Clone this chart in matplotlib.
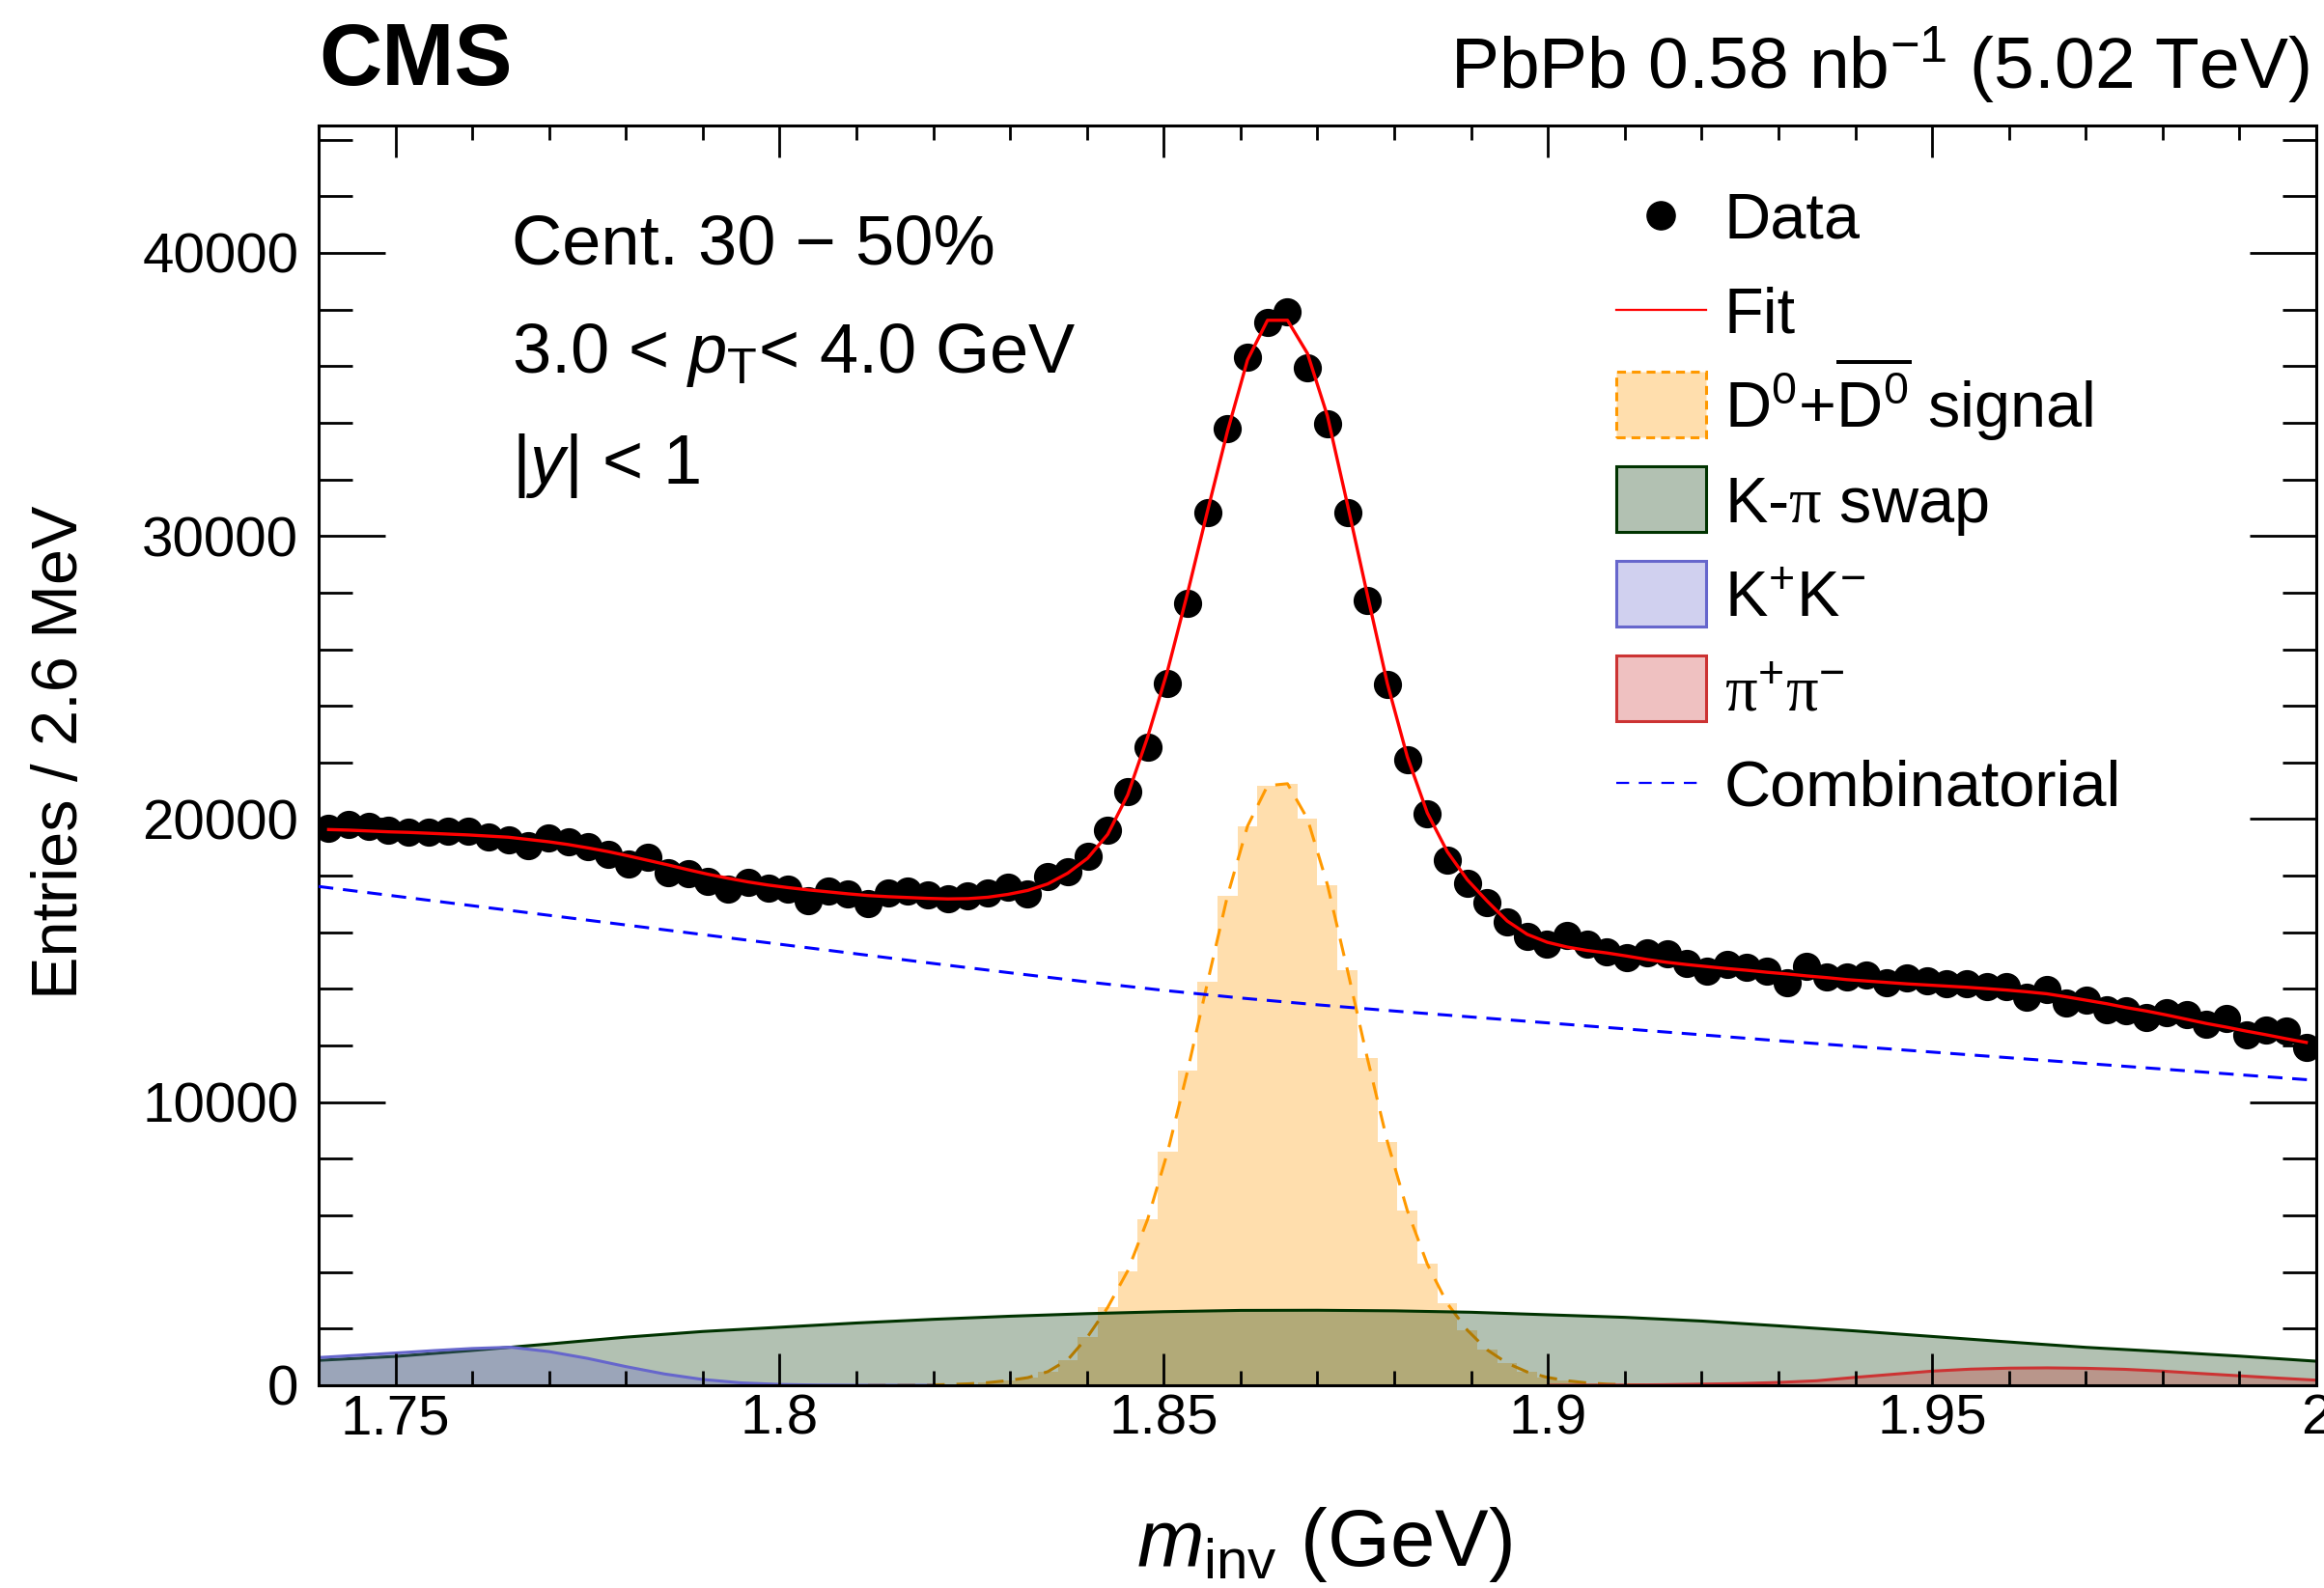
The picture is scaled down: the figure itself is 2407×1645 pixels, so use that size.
import numpy as np
import matplotlib
matplotlib.use("Agg")
import matplotlib.pyplot as plt
from matplotlib.patches import Rectangle
from matplotlib.ticker import FixedLocator, MultipleLocator, FuncFormatter

plt.rcParams["font.family"] = ["Liberation Sans", "DejaVu Sans"]
plt.rcParams["mathtext.fontset"] = "custom"
plt.rcParams["mathtext.rm"] = "Liberation Sans"
plt.rcParams["mathtext.it"] = "Liberation Sans:italic"
plt.rcParams["mathtext.bf"] = "Liberation Sans:bold"
plt.rcParams["mathtext.sf"] = "Liberation Serif"

# 100 bins of 2.6 MeV between 1.74 and 2.00 GeV
m_lo, m_hi, n_bins = 1.74, 2.00, 100
edges = np.linspace(m_lo, m_hi, n_bins + 1)
centers = 0.5 * (edges[:-1] + edges[1:])

data_counts = [
    19660, 19800, 19730, 19610, 19530, 19530, 19570, 19560, 19380, 19250,
    19050, 19350, 19200, 19020, 18750, 18400, 18650, 18090, 18060, 17800,
    17530, 17750, 17560, 17530, 17120, 17470, 17340, 17000, 17400, 17450,
    17320, 17200, 17300, 17400, 17600, 17350, 17960, 18150, 18680, 19610,
    20980, 22550, 24790, 27610, 30810, 33780, 36300, 37560, 37930, 35950,
    33980, 30810, 27720, 24760, 22100, 20180, 18550, 17740, 17060, 16380,
    15870, 15590, 15890, 15590, 15320, 15090, 15270, 15230, 14900, 14620,
    14870, 14760, 14640, 14220, 14790, 14410, 14410, 14500, 14220, 14380,
    14300, 14180, 14180, 14090, 14090, 13710, 13980, 13500, 13620, 13270,
    13240, 13000, 13160, 13080, 12770, 12960, 12370, 12540, 12510, 11940,
]

fit_counts = [
    19630, 19610, 19580, 19550, 19530, 19500, 19470, 19440, 19400, 19360,
    19280, 19200, 19100, 18980, 18850, 18700, 18540, 18380, 18210, 18050,
    17910, 17780, 17670, 17580, 17500, 17430, 17360, 17300, 17260, 17230,
    17200, 17180, 17190, 17240, 17340, 17480, 17710, 18090, 18620, 19460,
    20850, 22900, 25250, 27990, 30890, 33710, 36220, 37620, 37620, 36450,
    34240, 31120, 27920, 24790, 22200, 20220, 18850, 17860, 17100, 16400,
    15930, 15650, 15480, 15360, 15270, 15160, 15040, 14940, 14860, 14790,
    14720, 14660, 14590, 14530, 14460, 14400, 14330, 14280, 14230, 14180,
    14140, 14100, 14060, 14010, 13960, 13900, 13830, 13720, 13600, 13480,
    13340, 13220, 13080, 12930, 12780, 12650, 12510, 12380, 12240, 12110,
]

signal_counts = [0] * 28 + [
    3, 6, 12, 25, 50, 95, 165, 270, 480, 900,
    1720, 2750, 4040, 5860, 8240, 11110, 14240, 17300, 19750, 21180,
    21250, 20010, 17680, 14670, 11550, 8610, 6170, 4280, 2890, 1950,
    1250, 780, 470, 280, 160, 85, 40, 18, 8, 3,
] + [0] * 32

# background components sampled every 10 MeV
comp_mass = np.linspace(1.74, 2.00, 27)
comb = [17620, 17280, 16940, 16600, 16260, 15920, 15580, 15240, 14900, 14570,
        14250, 13950, 13680, 13440, 13220, 13010, 12800, 12590, 12380, 12170,
        11970, 11770, 11570, 11370, 11170, 10970, 10770]
swap = [880, 1020, 1230, 1460, 1700, 1900, 2050, 2200, 2330, 2440,
        2530, 2600, 2645, 2650, 2630, 2580, 2490, 2400, 2270, 2100,
        1920, 1725, 1530, 1340, 1190, 1030, 850]

kk_mass = np.linspace(1.74, 1.82, 17)
kk = [980, 1060, 1140, 1225, 1300, 1345, 1190, 950, 660, 400,
      205, 85, 30, 8, 2, 0, 0]

pipi_mass = np.linspace(1.90, 2.00, 21)
pipi = [0, 2, 8, 20, 40, 60, 100, 160, 280, 390,
        500, 570, 605, 615, 600, 565, 500, 415, 335, 255, 180]

c_sig_fill, c_sig_line = "#ffdead", "#ff9900"
c_swap = "#003300"
c_kk = "#6666cc"
c_pipi = "#cc3333"

fig = plt.figure(figsize=(24.07, 16.45), dpi=100)
ax = fig.add_axes([0.1371, 0.12766, 0.85957, 0.79331])

ax.stairs(signal_counts, edges, fill=True, color=c_sig_fill, lw=0, zorder=1)
nz = slice(27, 69)
ax.plot(centers[nz], np.array(signal_counts)[nz], color=c_sig_line, lw=2.2,
        dashes=(6, 4), zorder=1.2)

ax.fill_between(comp_mass, swap, color=c_swap, alpha=0.3, lw=0, zorder=1.4)
ax.plot(comp_mass, swap, color=c_swap, lw=2.2, zorder=1.5)
ax.fill_between(kk_mass, kk, color=c_kk, alpha=0.3, lw=0, zorder=1.6)
ax.plot(kk_mass, kk, color=c_kk, lw=2.2, zorder=1.7)
ax.fill_between(pipi_mass, pipi, color=c_pipi, alpha=0.3, lw=0, zorder=1.6)
ax.plot(pipi_mass, pipi, color=c_pipi, lw=2.2, zorder=1.7)

ax.plot(comp_mass, comb, color="blue", lw=2.2, dashes=(5, 3.3), zorder=3)
ax.plot(centers, data_counts, "o", color="black", ms=20, zorder=4)
ax.plot(centers, fit_counts, color="red", lw=2.4, zorder=5)

ax.set_xlim(m_lo, m_hi)
ax.set_ylim(0, 44500)
ax.set_axisbelow(False)

ax.xaxis.set_major_locator(FixedLocator([1.75, 1.8, 1.85, 1.9, 1.95, 2.0]))
ax.xaxis.set_minor_locator(FixedLocator(np.linspace(1.74, 2.0, 27)))
ax.xaxis.set_major_formatter(FuncFormatter(lambda v, _: f"{v:g}"))
ax.yaxis.set_major_locator(FixedLocator([0, 10000, 20000, 30000, 40000]))
ax.yaxis.set_minor_locator(MultipleLocator(2000))

ax.tick_params(which="both", direction="in", top=True, right=True,
               width=2, labelsize=42)
ax.tick_params(axis="x", which="major", length=24, pad=6)
ax.tick_params(axis="x", which="minor", length=11)
ax.tick_params(axis="y", which="major", length=50, pad=15)
ax.tick_params(axis="y", which="minor", length=25)
for s in ax.spines.values():
    s.set_linewidth(2.2)

# axis titles and header
fig.text(0.026, 0.5264, "Entries / 2.6 MeV", rotation=90,
         ha="center", va="center", fontsize=48)
fig.text(0.5698, 0.014, r"$m_{\mathrm{inv}}$ (GeV)", ha="center",
         va="baseline", fontsize=60)
fig.text(0.1371, 0.9468, "CMS", fontsize=65, fontweight="bold",
         ha="left", va="baseline")
fig.text(0.9934, 0.944, r"PbPb 0.58 nb$^{-1}$ (5.02 TeV)", fontsize=54,
         ha="right", va="baseline")

# selection text
fig.text(0.2202, 0.834, "Cent. 30 \u2212 50%", fontsize=52, va="baseline")
fig.text(0.2202, 0.7656, r"3.0 < $p_{\mathrm{T}}$< 4.0 GeV", fontsize=52,
         va="baseline")
fig.text(0.2202, 0.6957, r"|$y$| < 1", fontsize=52, va="baseline")

# legend
tr = ax.transAxes
box_x0, box_w, box_h = 0.6496, 0.0449, 0.0521
text_x = 0.7037
row_y0, row_dy = 0.9291, 0.07517
rows = [row_y0 - k * row_dy for k in range(7)]
labels = [
    "Data",
    "Fit",
    r"D$^{0}$+$\overline{\mathrm{D}^{0}}$ signal",
    r"K-$\mathsf{\pi}$ swap",
    r"K$^{+}$K$^{-}$",
    r"$\mathsf{\pi}^{+}\mathsf{\pi}^{-}$",
    "Combinatorial",
]
for y, lab in zip(rows, labels):
    ax.text(text_x, y - 0.0183, lab, transform=tr, fontsize=48,
            va="baseline", ha="left")

xc = box_x0 + box_w / 2
ax.plot([xc], [rows[0]], "o", color="black", ms=21, transform=tr, clip_on=False)
ax.plot([box_x0, box_x0 + box_w], [rows[1]] * 2, color="red", lw=1.6,
        transform=tr, clip_on=False)
box_styles = [
    (2, c_sig_fill, 1.0, c_sig_line, (0, (3, 2))),
    (3, c_swap, 0.3, c_swap, "-"),
    (4, c_kk, 0.3, c_kk, "-"),
    (5, c_pipi, 0.3, c_pipi, "-"),
]
for k, fc, a, ec, ls in box_styles:
    y = rows[k]
    ax.add_patch(Rectangle((box_x0, y - box_h / 2), box_w, box_h,
                           facecolor=matplotlib.colors.to_rgba(fc, a),
                           edgecolor=ec, lw=2.2, linestyle=ls,
                           transform=tr, clip_on=False))
ax.plot([box_x0, box_x0 + box_w], [rows[6]] * 2, color="blue", lw=1.6,
        dashes=(6, 4.5), transform=tr, clip_on=False)

fig.savefig("out.png", dpi=100)
